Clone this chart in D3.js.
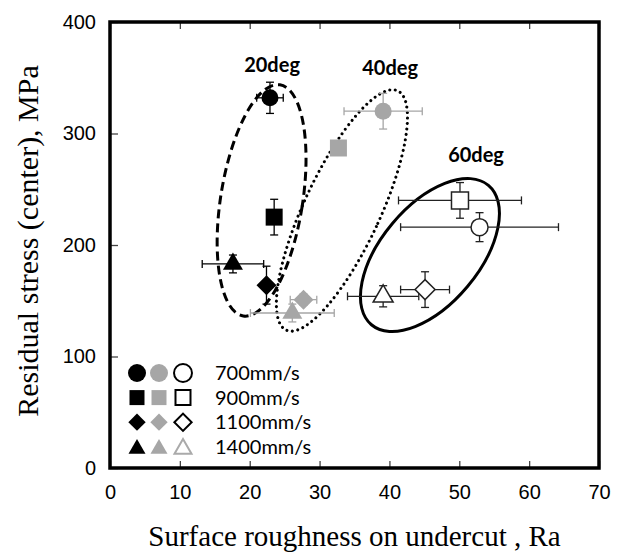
<!DOCTYPE html>
<html>
<head>
<meta charset="utf-8">
<script src="https://cdn.jsdelivr.net/npm/d3@7"></script>
<style>
  body { margin: 0; background: #fff; }
</style>
</head>
<body>
<div id="chart"></div>
<script>
// speeds (legend rows) and the three angle groups
const speeds = ["700mm/s", "900mm/s", "1100mm/s", "1400mm/s"];
const shapes = ["circle", "square", "diamond", "triangle"];
const groups = ["20deg", "40deg", "60deg"];

// values per group, in speed order
const ra20 = [22.9, 23.5, 22.4, 17.6];
const stress20 = [332, 225, 164, 183];
const raErr20 = [1.9, 0, 0, 4.4];
const stressErr20 = [14, 16, 17, 8];

const ra40 = [39.1, 32.7, 27.7, 26.1];
const stress40 = [320, 287, 151, 139];
const raErr40 = [5.6, 0, 1.9, 6];
const stressErr40 = [16, 0, 5, 8];

const ra60 = [52.9, 50.1, 45.1, 39.1];
const stress60 = [216, 240, 160, 154];
const raErr60 = [11.3, 8.8, 3.5, 5.1];
const stressErr60 = [13, 16, 16, 9.5];

// group label positions (data units) and enclosing ellipse centers
const labelX = [23.2, 40.1, 52.4];
const labelY = [361, 359, 281];
const ellipseX = [21.7, 33.2, 45.8];
const ellipseY = [240, 231, 191];

const xTicks = [0, 10, 20, 30, 40, 50, 60, 70];
const yTicks = [0, 100, 200, 300, 400];

function drawChart() {
  const width = 623;
  const height = 553;
  const left = 110, right = 599, top = 22, bottom = 468;

  let x = d3.scaleLinear().domain([0, 70]).range([left, right]);
  let y = d3.scaleLinear().domain([0, 400]).range([bottom, top]);

  let svg = d3
    .select("#chart")
    .append("svg")
    .attr("width", width)
    .attr("height", height)
    .style("font-family", "Liberation Sans, Arial, sans-serif");

  // ticks
  svg.append("g")
    .attr("transform", "translate(0," + bottom + ")")
    .call(d3.axisBottom(x).tickValues(xTicks).tickSizeInner(-7).tickSizeOuter(0).tickPadding(17))
    .call((g) => g.select(".domain").remove())
    .call((g) => g.selectAll("line").attr("stroke", "#444").attr("stroke-width", 1.3))
    .call((g) => g.selectAll("text").attr("font-size", 20).attr("fill", "#000").attr("font-family", "Liberation Sans, Arial"));

  svg.append("g")
    .attr("transform", "translate(0," + top + ")")
    .call(d3.axisTop(x).tickValues(xTicks).tickSizeInner(-7).tickSizeOuter(0).tickFormat(""))
    .call((g) => g.select(".domain").remove())
    .call((g) => g.selectAll("line").attr("stroke", "#444").attr("stroke-width", 1.3));

  svg.append("g")
    .attr("transform", "translate(" + left + ",0)")
    .call(d3.axisLeft(y).tickValues(yTicks).tickSizeInner(-8).tickSizeOuter(0).tickPadding(14))
    .call((g) => g.select(".domain").remove())
    .call((g) => g.selectAll("line").attr("stroke", "#444").attr("stroke-width", 1.3))
    .call((g) => g.selectAll("text").attr("font-size", 20).attr("fill", "#000").attr("font-family", "Liberation Sans, Arial"));

  // frame
  svg.append("rect")
    .attr("x", left)
    .attr("y", top)
    .attr("width", right - left)
    .attr("height", bottom - top)
    .attr("fill", "none")
    .attr("stroke", "#000")
    .attr("stroke-width", 3.5);

  // axis titles
  svg.append("text")
    .attr("x", (left + right) / 2)
    .attr("y", 546)
    .attr("text-anchor", "middle")
    .style("font-family", "Liberation Serif, Times New Roman, serif")
    .style("font-size", "29px")
    .text("Surface roughness on undercut , Ra");

  svg.append("text")
    .attr("transform", "translate(38,241) rotate(-90)")
    .attr("text-anchor", "middle")
    .style("font-family", "Liberation Serif, Times New Roman, serif")
    .style("font-size", "30px")
    .text("Residual stress (center), MPa");

  // ellipses round each group
  const ellipseStyle = [
    { rx: 41, ry: 117, rot: 9, dash: "9,5", cap: "butt" },
    { rx: 38, ry: 132, rot: 25, dash: "0,5.5", cap: "round" },
    { rx: 49, ry: 91, rot: 40, dash: null, cap: "butt" }
  ];
  groups.forEach((gname, i) => {
    let s = ellipseStyle[i];
    svg.append("ellipse")
      .attr("transform", "translate(" + x(ellipseX[i]) + "," + y(ellipseY[i]) + ") rotate(" + s.rot + ")")
      .attr("rx", s.rx)
      .attr("ry", s.ry)
      .attr("fill", "none")
      .attr("stroke", "#000")
      .attr("stroke-width", 3)
      .attr("stroke-linecap", s.cap)
      .attr("stroke-dasharray", s.dash);
  });

  groups.forEach((gname, i) => {
    svg.append("text")
      .attr("x", x(labelX[i]))
      .attr("y", y(labelY[i]))
      .attr("dy", "0.35em")
      .attr("text-anchor", "middle")
      .style("font-family", "Lato, Noto Sans, sans-serif")
      .style("font-weight", "bold")
      .style("font-size", "20px")
      .text(gname);
  });

  // points
  const series = [
    { ra: ra20, st: stress20, ex: raErr20, ey: stressErr20, fill: "#000", stroke: "none", bar: "#000" },
    { ra: ra40, st: stress40, ex: raErr40, ey: stressErr40, fill: "#a6a6a6", stroke: "none", bar: "#a6a6a6" },
    { ra: ra60, st: stress60, ex: raErr60, ey: stressErr60, fill: "#fff", stroke: "#222", bar: "#222" }
  ];

  const symbolOf = {
    circle: d3.symbol().type(d3.symbolCircle).size(227),
    square: d3.symbol().type(d3.symbolSquare).size(289),
    diamond: d3.symbol().type(d3.symbolSquare).size(200),
    triangle: d3.symbol().type(d3.symbolTriangle).size(173)
  };

  series.forEach((s) => {
    let data = speeds.map((sp, j) => ({ ra: s.ra[j], st: s.st[j], ex: s.ex[j], ey: s.ey[j], shape: shapes[j] }));
    let eb = svg.append("g").attr("stroke", s.bar).attr("stroke-width", 1.3);
    data.forEach((d) => {
      if (d.ex > 0) {
        eb.append("line").attr("x1", x(d.ra - d.ex)).attr("x2", x(d.ra + d.ex)).attr("y1", y(d.st)).attr("y2", y(d.st));
        [d.ra - d.ex, d.ra + d.ex].forEach((v) => {
          eb.append("line").attr("x1", x(v)).attr("x2", x(v)).attr("y1", y(d.st) - 4).attr("y2", y(d.st) + 4);
        });
      }
      if (d.ey > 0) {
        eb.append("line").attr("x1", x(d.ra)).attr("x2", x(d.ra)).attr("y1", y(d.st - d.ey)).attr("y2", y(d.st + d.ey));
        [d.st - d.ey, d.st + d.ey].forEach((v) => {
          eb.append("line").attr("x1", x(d.ra) - 4).attr("x2", x(d.ra) + 4).attr("y1", y(v)).attr("y2", y(v));
        });
      }
    });

    svg.append("g")
      .selectAll("path")
      .data(data)
      .enter()
      .append("path")
      .attr("d", (d) => symbolOf[d.shape]())
      .attr("transform", (d) => "translate(" + x(d.ra) + "," + y(d.st) + ")" + (d.shape == "diamond" ? " rotate(45)" : ""))
      .attr("fill", s.fill)
      .attr("stroke", s.stroke)
      .attr("stroke-width", 1.5);
  });

  // legend
  const legendSym = {
    circle: d3.symbol().type(d3.symbolCircle).size(254),
    square: d3.symbol().type(d3.symbolSquare).size(225),
    diamond: d3.symbol().type(d3.symbolSquare).size(150),
    triangle: d3.symbol().type(d3.symbolTriangle).size(125)
  };
  const legendCols = [
    { x: 137, fill: "#000", stroke: "none" },
    { x: 159, fill: "#a6a6a6", stroke: "none" },
    { x: 183, fill: "#fff", stroke: "#000" }
  ];
  speeds.forEach((sp, j) => {
    let ly = 373 + j * 24.6;
    legendCols.forEach((c, k) => {
      svg.append("path")
        .attr("d", legendSym[shapes[j]]())
        .attr("transform", "translate(" + c.x + "," + (ly + (shapes[j] == "triangle" ? 2 : 0)) + ")" + (shapes[j] == "diamond" ? " rotate(45)" : ""))
        .attr("fill", c.fill)
        .attr("stroke", k == 2 && shapes[j] == "triangle" ? "#aaa" : c.stroke)
        .attr("stroke-width", 2);
    });
    svg.append("text")
      .attr("x", 215)
      .attr("y", ly)
      .attr("dy", "0.36em")
      .style("font-family", "Lato, Noto Sans, sans-serif")
      .style("font-size", "20px")
      .text(sp);
  });
}

drawChart();
</script>
</body>
</html>
